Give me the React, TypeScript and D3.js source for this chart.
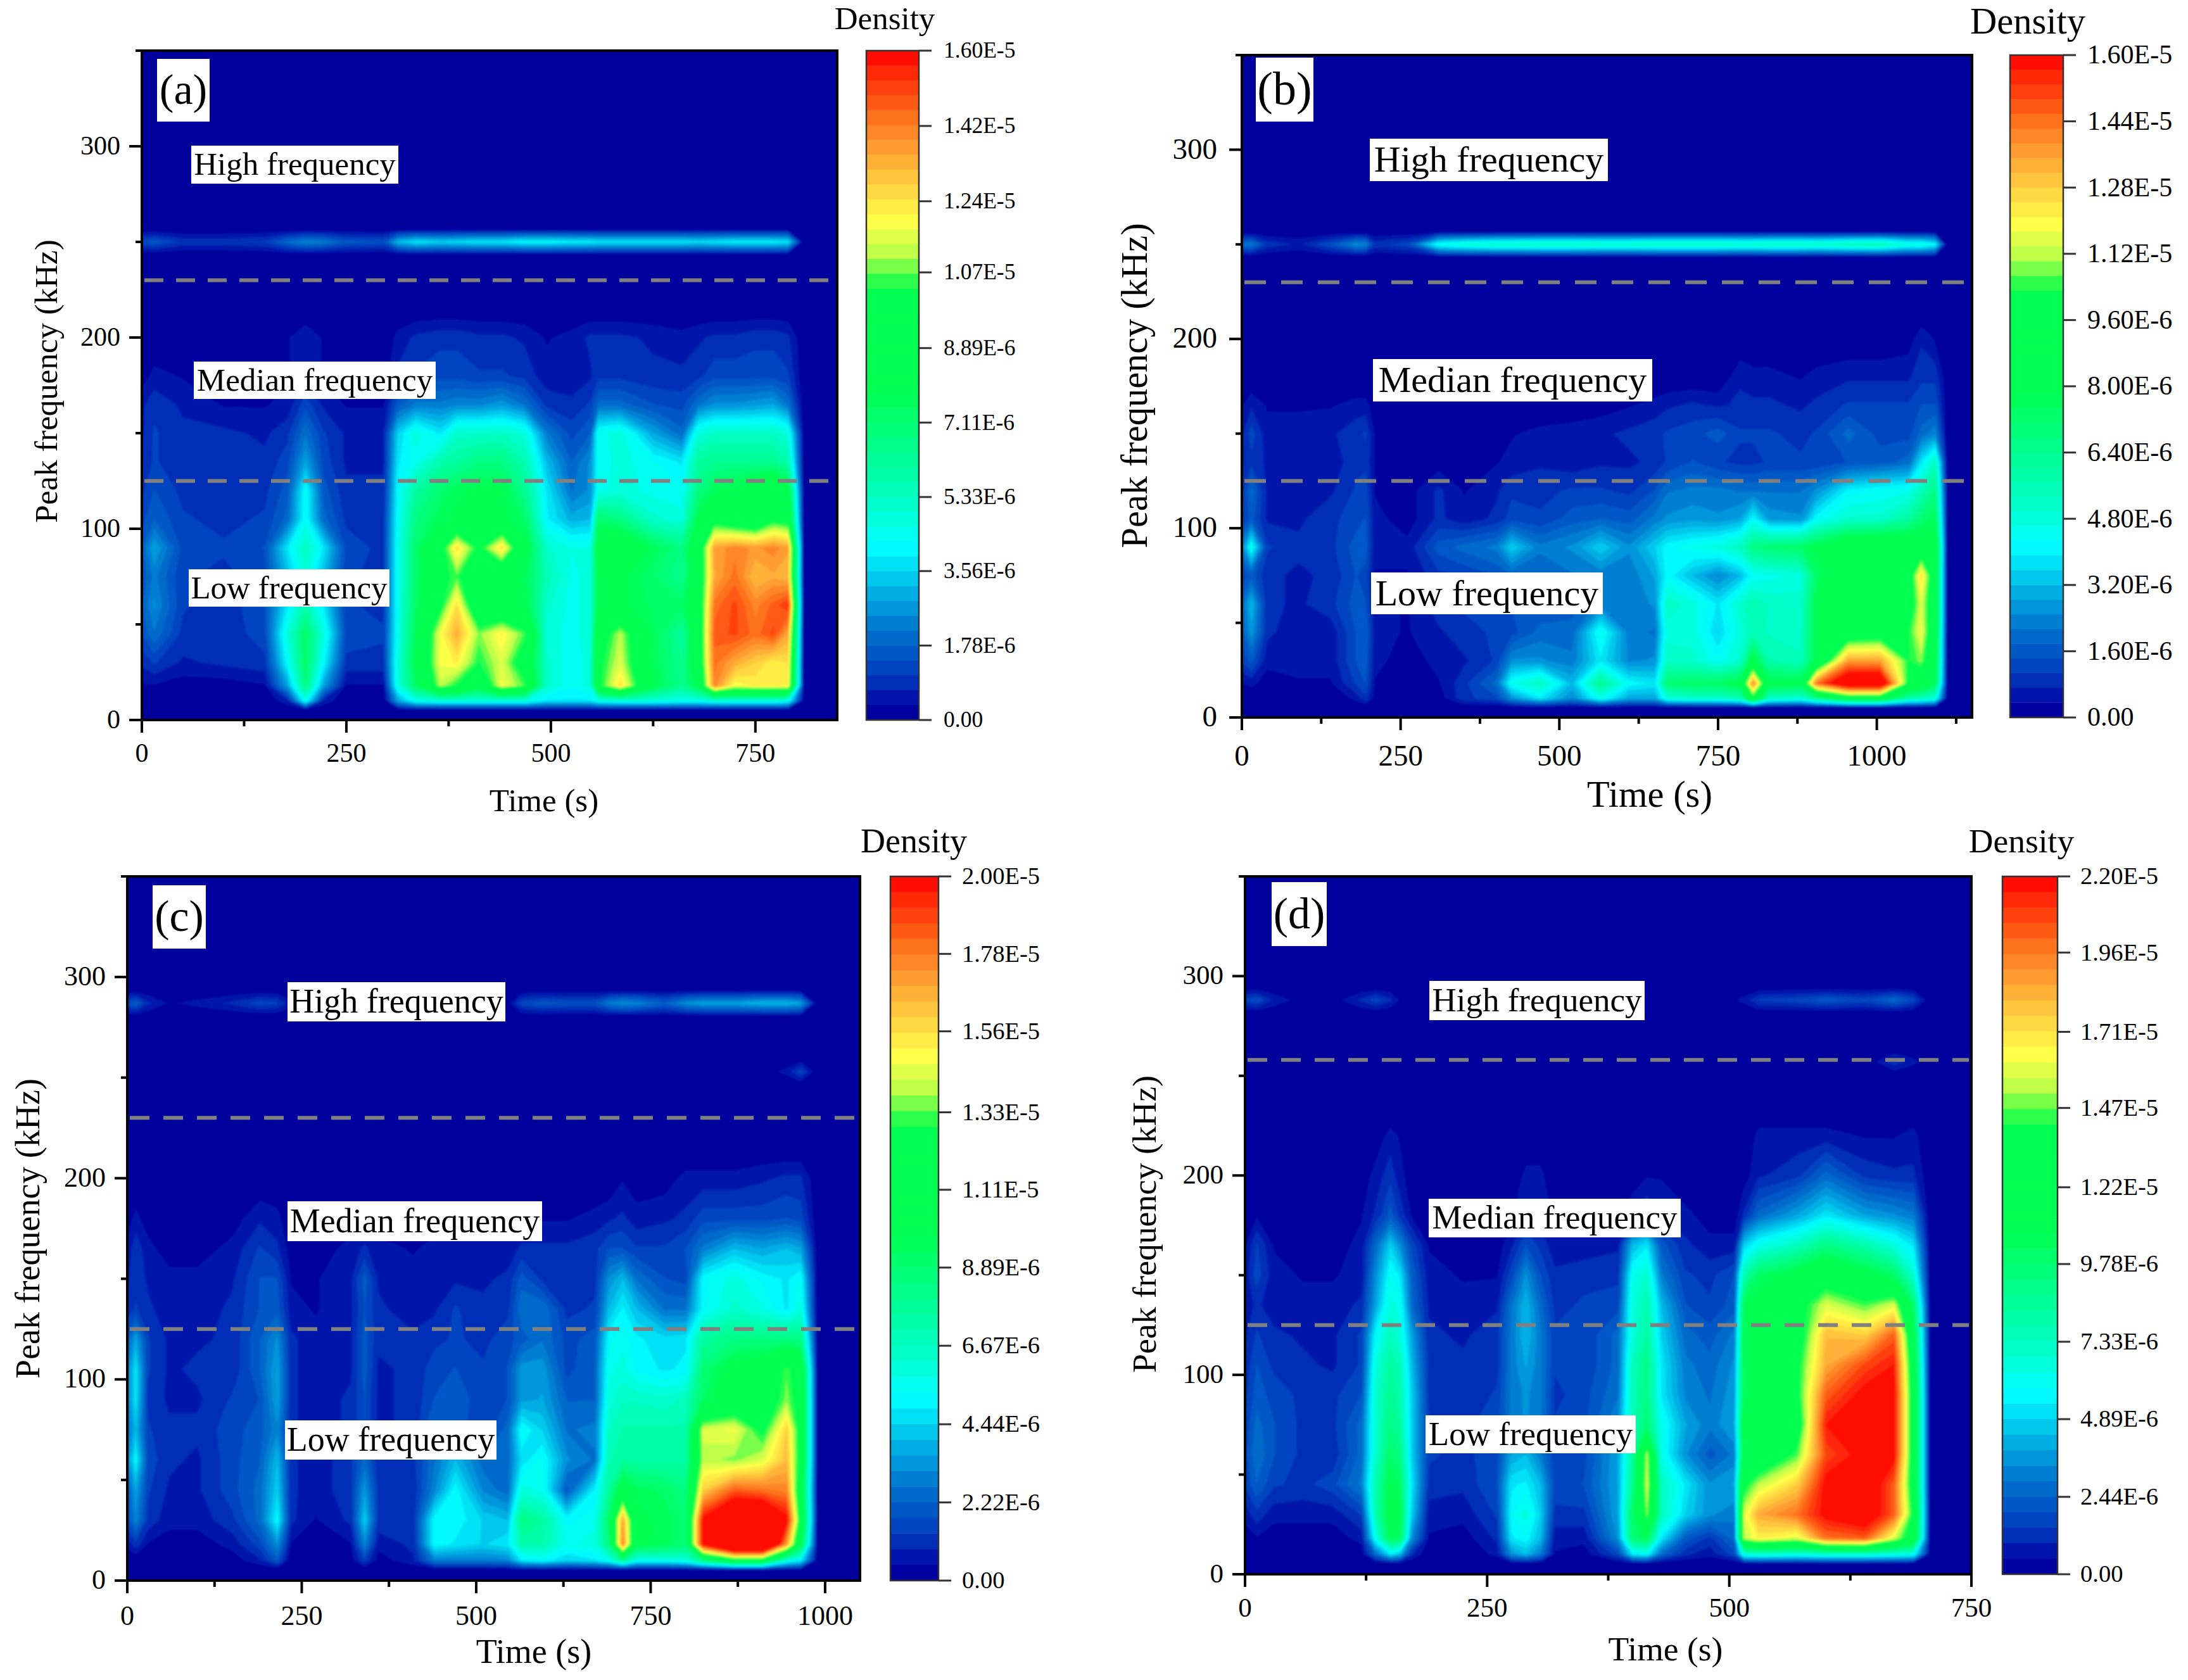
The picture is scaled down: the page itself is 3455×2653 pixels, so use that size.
import React from 'react';
import * as d3 from 'd3';

// rows run top to bottom, as they look in the figure. Values over 100 are clipped to red

const rowFreqs = [200, 180, 165, 150, 135, 120, 105, 90, 75, 60, 45, 30, 18, 10];

// panel (a)
const aTimes = [0, 15, 50, 100, 150, 178, 200, 222, 250, 295, 313, 335, 365, 385, 412, 440, 468, 495, 525, 548, 558, 585, 625, 660, 680, 700, 725, 750, 772, 790, 810, 850];
const aGrid = [
  [0, 0, 0, 0, 0, 2, 4, 2, 0, 0, 3, 5, 6, 6, 5, 5, 4, 2, 3, 5, 5, 5, 4, 3, 4, 5, 5, 6, 6, 5, 0, 0],
  [1, 3, 2, 1, 1, 2, 4, 2, 1, 1, 5, 7, 8, 8, 7, 7, 6, 3, 3, 4, 6, 6, 5, 5, 6, 8, 8, 8, 8, 7, 0, 0],
  [4, 6, 4, 2, 2, 3, 8, 4, 2, 2, 10, 14, 14, 15, 15, 17, 13, 6, 5, 7, 12, 12, 9, 8, 13, 16, 16, 17, 18, 13, 0, 0],
  [4, 7, 5, 5, 4, 6, 13, 7, 4, 4, 22, 30, 24, 32, 32, 33, 30, 14, 8, 11, 28, 30, 18, 12, 30, 33, 33, 33, 33, 30, 0, 0],
  [5, 7, 5, 6, 5, 8, 18, 8, 4, 4, 24, 28, 36, 38, 42, 42, 36, 20, 11, 16, 27, 30, 27, 24, 38, 40, 40, 40, 40, 36, 0, 0],
  [6, 9, 6, 6, 6, 10, 27, 10, 5, 5, 26, 38, 45, 48, 50, 50, 40, 24, 13, 16, 28, 30, 28, 27, 42, 48, 50, 56, 62, 52, 0, 0],
  [8, 11, 7, 6, 7, 12, 27, 12, 6, 6, 27, 42, 48, 50, 50, 50, 46, 25, 19, 20, 45, 42, 32, 30, 50, 60, 55, 52, 62, 60, 0, 0],
  [11, 18, 8, 7, 9, 24, 34, 24, 8, 6, 28, 45, 60, 78, 62, 78, 52, 32, 29, 29, 55, 58, 48, 42, 55, 85, 88, 86, 88, 85, 0, 0],
  [9, 14, 7, 6, 8, 20, 30, 20, 7, 6, 28, 45, 62, 66, 50, 52, 48, 35, 28, 30, 50, 50, 45, 40, 55, 84, 90, 82, 84, 82, 0, 0],
  [11, 16, 7, 5, 9, 24, 36, 24, 7, 6, 28, 46, 62, 78, 52, 50, 50, 32, 28, 30, 50, 50, 46, 46, 55, 90, 94, 88, 92, 96, 0, 0],
  [9, 13, 6, 5, 8, 30, 46, 30, 8, 7, 28, 48, 74, 84, 68, 76, 66, 30, 28, 30, 58, 70, 48, 38, 55, 92, 94, 90, 94, 84, 0, 0],
  [5, 7, 4, 5, 6, 26, 46, 26, 6, 6, 30, 50, 74, 76, 64, 72, 58, 32, 27, 30, 62, 72, 48, 40, 55, 90, 84, 80, 76, 78, 0, 0],
  [2, 2, 1, 1, 2, 18, 42, 18, 2, 2, 30, 46, 70, 64, 52, 74, 66, 32, 27, 30, 62, 78, 50, 40, 50, 88, 74, 76, 76, 76, 0, 0],
  [0, 0, 0, 0, 0, 4, 28, 4, 0, 0, 18, 28, 30, 30, 30, 30, 30, 24, 24, 24, 28, 30, 30, 28, 28, 30, 30, 30, 30, 28, 0, 0],
];
const aBand = [8, 10, 6, 6, 7, 12, 15, 14, 10, 9, 20, 24, 22, 23, 24, 24, 26, 26, 25, 25, 24, 24, 24, 24, 23, 24, 25, 25, 25, 24, 0, 0];
const aTicks = ['0.00', '1.78E-6', '3.56E-6', '5.33E-6', '7.11E-6', '8.89E-6', '1.07E-5', '1.24E-5', '1.42E-5', '1.60E-5'];

// panel (b)
const bTimes = [0, 15, 40, 90, 140, 180, 195, 210, 260, 310, 350, 400, 425, 470, 520, 565, 610, 650, 670, 710, 750, 785, 805, 830, 880, 905, 955, 1005, 1050, 1070, 1092, 1112, 1150];
const bGrid = [
  [0, 0, 0, 0, 0, 0, 0, 0, 0, 0, 0, 0, 0, 0, 0, 0, 0, 0, 0, 0, 0, 0, 0, 0, 0, 0, 0, 0, 1, 4, 2, 0, 0],
  [0, 0, 0, 0, 0, 0, 0, 0, 0, 0, 0, 0, 0, 0, 0, 0, 0, 0, 0, 0, 0, 4, 3, 3, 2, 3, 4, 4, 4, 6, 6, 0, 0],
  [2, 4, 2, 2, 2, 3, 3, 1, 0, 0, 0, 0, 0, 0, 1, 1, 2, 3, 4, 5, 4, 5, 5, 5, 4, 5, 7, 7, 7, 9, 9, 0, 0],
  [4, 8, 3, 3, 4, 6, 7, 2, 1, 1, 1, 1, 2, 3, 3, 4, 5, 6, 7, 8, 10, 7, 7, 7, 6, 7, 12, 8, 8, 12, 15, 0, 0],
  [4, 6, 4, 3, 3, 6, 6, 2, 1, 1, 1, 2, 3, 4, 3, 4, 4, 5, 7, 9, 7, 6, 6, 7, 7, 7, 9, 10, 12, 24, 34, 0, 0],
  [6, 12, 4, 3, 4, 7, 8, 2, 1, 5, 2, 4, 6, 6, 7, 7, 6, 9, 13, 14, 14, 13, 13, 13, 13, 16, 25, 27, 28, 34, 42, 0, 0],
  [6, 10, 4, 4, 6, 8, 9, 3, 1, 5, 3, 5, 8, 7, 10, 11, 10, 14, 16, 17, 16, 18, 26, 17, 16, 26, 32, 32, 38, 44, 48, 0, 0],
  [15, 28, 7, 5, 6, 10, 10, 3, 3, 10, 12, 14, 22, 14, 16, 22, 16, 22, 26, 28, 30, 34, 42, 44, 46, 50, 58, 60, 58, 56, 58, 0, 0],
  [7, 10, 5, 4, 5, 9, 8, 2, 2, 6, 7, 9, 11, 11, 13, 14, 14, 18, 26, 20, 15, 20, 27, 28, 30, 46, 56, 56, 58, 78, 56, 0, 0],
  [12, 20, 5, 4, 6, 10, 9, 3, 2, 6, 7, 9, 9, 9, 10, 14, 14, 16, 33, 30, 24, 32, 36, 33, 32, 50, 56, 56, 58, 72, 56, 0, 0],
  [10, 17, 5, 3, 3, 9, 11, 3, 2, 4, 6, 7, 8, 12, 12, 28, 14, 13, 30, 30, 22, 30, 35, 33, 32, 50, 56, 58, 64, 74, 54, 0, 0],
  [7, 10, 3, 3, 3, 9, 10, 3, 1, 3, 4, 7, 16, 16, 14, 24, 15, 16, 33, 32, 27, 32, 52, 36, 34, 50, 85, 85, 64, 68, 52, 0, 0],
  [2, 3, 1, 2, 2, 7, 9, 2, 0, 2, 6, 12, 28, 34, 20, 40, 26, 24, 44, 46, 46, 50, 88, 50, 50, 90, 110, 110, 62, 56, 48, 0, 0],
  [0, 0, 0, 0, 0, 3, 6, 1, 0, 1, 6, 8, 16, 24, 15, 28, 18, 18, 30, 32, 32, 35, 60, 33, 30, 40, 55, 55, 36, 34, 30, 0, 0],
];
const bBand = [12, 14, 6, 4, 9, 16, 15, 6, 8, 28, 31, 33, 33, 34, 34, 33, 33, 34, 34, 34, 34, 33, 33, 34, 34, 33, 35, 36, 30, 30, 26, 0, 0];
const bTicks = ['0.00', '1.60E-6', '3.20E-6', '4.80E-6', '6.40E-6', '8.00E-6', '9.60E-6', '1.12E-5', '1.28E-5', '1.44E-5', '1.60E-5'];

// panel (c)
const cTimes = [0, 12, 30, 60, 100, 150, 190, 215, 235, 270, 320, 340, 360, 410, 440, 470, 510, 545, 565, 595, 630, 670, 690, 710, 730, 770, 800, 825, 870, 910, 945, 965, 990, 1050];
const cGrid = [
  [0, 0, 0, 0, 0, 0, 0, 0, 0, 0, 0, 0, 0, 0, 0, 0, 0, 0, 0, 0, 0, 0, 0, 2, 1, 1, 3, 3, 3, 4, 5, 5, 0, 0],
  [1, 3, 1, 0, 0, 1, 4, 3, 0, 0, 1, 1, 1, 0, 1, 1, 1, 1, 2, 2, 2, 3, 4, 5, 3, 4, 5, 8, 8, 8, 9, 8, 0, 0],
  [3, 6, 3, 1, 1, 3, 7, 5, 1, 1, 3, 5, 3, 2, 3, 3, 3, 3, 5, 5, 5, 6, 9, 9, 7, 7, 9, 14, 20, 18, 20, 18, 0, 0],
  [4, 6, 4, 3, 3, 4, 9, 9, 2, 2, 4, 10, 4, 3, 4, 4, 4, 5, 10, 6, 5, 6, 16, 20, 13, 9, 8, 26, 30, 26, 24, 27, 0, 0],
  [5, 7, 5, 3, 3, 5, 9, 10, 3, 2, 4, 9, 5, 3, 4, 7, 5, 6, 13, 13, 6, 7, 20, 25, 20, 13, 13, 26, 32, 29, 24, 30, 0, 0],
  [10, 18, 7, 4, 4, 5, 11, 16, 5, 3, 4, 10, 5, 5, 6, 7, 6, 8, 10, 13, 8, 10, 26, 28, 25, 23, 24, 38, 42, 42, 42, 42, 0, 0],
  [14, 24, 7, 4, 5, 5, 11, 18, 5, 3, 4, 10, 4, 5, 8, 9, 7, 9, 17, 17, 8, 11, 28, 30, 26, 24, 25, 44, 52, 54, 66, 58, 0, 0],
  [14, 24, 6, 4, 4, 7, 9, 18, 5, 3, 5, 9, 4, 5, 9, 11, 7, 9, 17, 18, 11, 11, 30, 33, 33, 32, 34, 46, 54, 56, 68, 60, 0, 0],
  [12, 20, 7, 5, 5, 8, 10, 15, 5, 3, 5, 9, 4, 5, 12, 10, 7, 12, 27, 22, 13, 14, 33, 36, 36, 36, 36, 72, 74, 62, 80, 60, 0, 0],
  [15, 26, 8, 5, 4, 8, 11, 20, 5, 3, 6, 12, 5, 6, 13, 20, 12, 12, 23, 27, 16, 13, 35, 38, 37, 37, 37, 70, 68, 72, 82, 60, 0, 0],
  [10, 18, 7, 4, 4, 8, 12, 22, 5, 3, 6, 17, 6, 5, 15, 26, 15, 12, 30, 28, 10, 25, 38, 54, 48, 46, 42, 80, 92, 90, 88, 55, 0, 0],
  [8, 15, 6, 3, 3, 6, 12, 26, 5, 2, 5, 22, 6, 6, 26, 26, 22, 20, 42, 38, 26, 28, 46, 85, 50, 48, 44, 100, 115, 115, 100, 60, 0, 0],
  [3, 6, 2, 1, 1, 3, 8, 16, 2, 0, 2, 15, 3, 5, 26, 24, 22, 24, 36, 36, 28, 30, 42, 88, 50, 48, 44, 100, 130, 130, 85, 50, 0, 0],
  [0, 0, 0, 0, 0, 1, 4, 10, 0, 0, 1, 7, 1, 4, 14, 14, 14, 15, 24, 26, 22, 24, 28, 40, 28, 28, 30, 42, 58, 58, 30, 25, 0, 0],
];
const cBand = [8, 11, 5, 2, 3, 5, 8, 7, 3, 1, 1, 1, 1, 1, 1, 1, 1, 1, 8, 10, 9, 9, 14, 16, 15, 11, 16, 18, 18, 20, 20, 18, 0, 0];
const cFaint = [0, 0, 0, 0, 0, 0, 0, 0, 0, 0, 0, 0, 0, 0, 0, 0, 0, 0, 0, 0, 0, 0, 0, 0, 0, 0, 0, 0, 0, 1, 3, 8, 0, 0];
const cTicks = ['0.00', '2.22E-6', '4.44E-6', '6.67E-6', '8.89E-6', '1.11E-5', '1.33E-5', '1.56E-5', '1.78E-5', '2.00E-5'];

// panel (d)
const dRowFreqs = [220, ...rowFreqs];
const dTimes = [0, 12, 30, 60, 90, 120, 135, 150, 160, 172, 190, 225, 260, 275, 290, 305, 320, 350, 385, 400, 415, 430, 455, 480, 505, 515, 530, 570, 600, 640, 670, 690, 708, 750];
const dGrid = [
  [0, 0, 0, 0, 0, 0, 1, 3, 2, 0, 0, 0, 0, 0, 0, 0, 0, 0, 0, 0, 0, 0, 0, 0, 0, 0, 3, 3, 3, 2, 2, 3, 0, 0],
  [0, 0, 0, 0, 0, 1, 3, 6, 3, 1, 0, 0, 0, 0, 3, 3, 0, 0, 0, 0, 2, 2, 0, 0, 0, 1, 4, 6, 12, 6, 5, 5, 0, 0],
  [0, 2, 1, 0, 0, 2, 5, 10, 6, 2, 0, 0, 0, 2, 4, 3, 2, 1, 1, 5, 7, 4, 3, 1, 1, 5, 12, 18, 24, 18, 16, 14, 0, 0],
  [2, 7, 2, 1, 1, 3, 12, 22, 16, 8, 2, 1, 1, 4, 9, 6, 3, 3, 4, 20, 24, 10, 5, 3, 3, 22, 28, 34, 42, 36, 30, 24, 0, 0],
  [3, 8, 3, 2, 2, 3, 16, 27, 24, 11, 3, 2, 2, 8, 16, 9, 5, 6, 6, 28, 32, 14, 7, 6, 9, 36, 46, 52, 58, 52, 46, 32, 0, 0],
  [3, 5, 3, 3, 3, 5, 18, 30, 28, 12, 4, 3, 4, 13, 20, 12, 6, 7, 8, 30, 36, 20, 9, 7, 10, 48, 52, 60, 72, 66, 72, 46, 0, 0],
  [4, 7, 5, 4, 4, 7, 26, 34, 30, 18, 5, 4, 6, 14, 20, 14, 7, 7, 12, 30, 38, 22, 12, 10, 14, 48, 52, 58, 82, 80, 92, 52, 0, 0],
  [5, 9, 6, 5, 4, 7, 30, 38, 35, 20, 6, 5, 6, 14, 18, 14, 7, 7, 12, 34, 42, 24, 14, 12, 16, 48, 52, 62, 84, 94, 98, 56, 0, 0],
  [6, 10, 8, 6, 6, 9, 32, 40, 36, 22, 6, 5, 7, 14, 16, 14, 6, 8, 13, 35, 42, 24, 15, 13, 17, 48, 50, 62, 92, 100, 100, 58, 0, 0],
  [7, 12, 9, 6, 6, 12, 32, 42, 38, 22, 7, 6, 8, 14, 16, 14, 7, 8, 16, 34, 44, 28, 18, 14, 18, 52, 62, 58, 98, 100, 100, 58, 0, 0],
  [8, 13, 9, 6, 5, 12, 32, 46, 42, 22, 7, 6, 8, 18, 20, 14, 7, 8, 18, 38, 70, 28, 16, 10, 14, 50, 54, 66, 94, 100, 100, 58, 0, 0],
  [7, 11, 7, 6, 8, 14, 36, 50, 46, 24, 6, 5, 9, 24, 25, 20, 8, 9, 18, 40, 72, 34, 24, 16, 18, 62, 70, 80, 100, 105, 92, 58, 0, 0],
  [3, 6, 3, 3, 3, 7, 36, 52, 50, 22, 3, 3, 7, 26, 30, 22, 6, 6, 18, 46, 68, 34, 22, 16, 14, 72, 84, 90, 100, 105, 92, 62, 0, 0],
  [1, 2, 1, 1, 1, 3, 28, 48, 46, 16, 2, 1, 5, 24, 26, 20, 3, 3, 16, 44, 48, 24, 10, 6, 12, 70, 76, 72, 90, 92, 72, 58, 0, 0],
  [0, 0, 0, 0, 0, 1, 12, 24, 20, 5, 0, 0, 3, 16, 20, 14, 2, 1, 8, 24, 26, 12, 5, 3, 8, 30, 32, 30, 32, 32, 30, 28, 0, 0],
];
const dBand = [7, 9, 4, 1, 1, 5, 8, 5, 2, 1, 1, 1, 1, 1, 1, 1, 1, 5, 2, 1, 1, 1, 1, 1, 2, 3, 7, 8, 10, 8, 12, 8, 0, 0];
const dFaint = [0, 0, 0, 0, 0, 0, 0, 0, 0, 0, 0, 0, 0, 0, 0, 0, 0, 0, 0, 0, 0, 0, 0, 0, 0, 0, 0, 0, 0, 0, 6, 3, 0, 0];
const dTicks = ['0.00', '2.44E-6', '4.89E-6', '7.33E-6', '9.78E-6', '1.22E-5', '1.47E-5', '1.71E-5', '1.96E-5', '2.20E-5'];

const freqMajor = [0, 100, 200, 300];
const freqMinor = [50, 150, 250, 350];
const bandCount = 45;

// origin style rainbow, sampled by eye from the colour bar
const paletteStops = [0, 0.02, 0.05, 0.09, 0.13, 0.18, 0.26, 0.33, 0.4, 0.49, 0.644, 0.67, 0.7, 0.745, 0.8, 0.86, 0.91, 0.96, 1];
const paletteColors = ['#00009c', '#0004a4', '#0028b4', '#0050c4', '#0070cc', '#00a4e0', '#00ffff', '#00ffc4', '#00ff90', '#00ff50', '#00ff50', '#60ff48', '#c0ff48', '#ffff48', '#ffd040', '#ff9830', '#ff6818', '#ff3008', '#ff0000'];
const palette = d3.scaleLinear<string>().domain(paletteStops).range(paletteColors);

const panels = [
  {
    tag: '(a)', times: aTimes, grid: aGrid, rows: rowFreqs, bands: [[250, aBand]], top: 1.6e-5, ticks: aTicks,
    xMax: 850, xMajor: [0, 250, 500, 750], xMinor: [125, 375, 625],
    dashed: [230, 125], dash: '30 20',
    plot: { l: 224, r: 1322, t: 80, b: 1137 }, bar: { l: 1368, r: 1451 },
    font: { tick: 42, bar: 35.5, title: 51, label: 51, tag: 68 },
    yTitle: [90, 602], xTitle: [859, 1281], density: [1397, 46], xTickDy: 66, yTickDx: 34, barDx: 39,
    boxes: [
      ['(a)', 248, 331, 93, 192], ['High frequency', 302, 629, 230, 290],
      ['Median frequency', 306, 688, 571, 630], ['Low frequency', 298, 615, 899, 958],
    ],
  },
  {
    tag: '(b)', times: bTimes, grid: bGrid, rows: rowFreqs, bands: [[250, bBand]], top: 1.6e-5, ticks: bTicks,
    xMax: 1150, xMajor: [0, 250, 500, 750, 1000], xMinor: [125, 375, 625, 875, 1125],
    dashed: [230, 125], dash: '34 24',
    plot: { l: 1961, r: 3114, t: 87, b: 1133 }, bar: { l: 3174, r: 3258 },
    font: { tick: 47, bar: 42, title: 58.5, label: 58, tag: 74 },
    yTitle: [1811, 609], xTitle: [2605, 1274], density: [3202, 53], xTickDy: 76, yTickDx: 39, barDx: 38,
    boxes: [
      ['(b)', 1983, 2074, 91, 192], ['High frequency', 2163, 2539, 219, 286],
      ['Median frequency', 2168, 2609, 567, 634], ['Low frequency', 2165, 2531, 904, 970],
    ],
  },
  {
    tag: '(c)', times: cTimes, grid: cGrid, rows: rowFreqs, bands: [[253, cFaint], [287, cBand]], top: 2e-5, ticks: cTicks,
    xMax: 1050, xMajor: [0, 250, 500, 750, 1000], xMinor: [125, 375, 625, 875],
    dashed: [230, 125], dash: '31 22',
    plot: { l: 201, r: 1358, t: 1384, b: 2496 }, bar: { l: 1406, r: 1482 },
    font: { tick: 44, bar: 38.5, title: 54, label: 54, tag: 70 },
    yTitle: [62, 1940], xTitle: [843, 2626], density: [1443, 1346], xTickDy: 70, yTickDx: 34, barDx: 37,
    boxes: [
      ['(c)', 241, 325, 1398, 1498], ['High frequency', 454, 798, 1551, 1613],
      ['Median frequency', 454, 856, 1897, 1960], ['Low frequency', 450, 784, 2243, 2305],
    ],
  },
  {
    tag: '(d)', times: dTimes, grid: dGrid, rows: dRowFreqs, bands: [[257, dFaint], [288, dBand]], top: 2.2e-5, ticks: dTicks,
    xMax: 750, xMajor: [0, 250, 500, 750], xMinor: [125, 375, 625],
    dashed: [258, 125], dash: '31 22',
    plot: { l: 1966, r: 3113, t: 1384, b: 2486 }, bar: { l: 3162, r: 3249 },
    font: { tick: 43, bar: 38.5, title: 53.5, label: 53, tag: 70 },
    yTitle: [1825, 1933], xTitle: [2630, 2622], density: [3192, 1346], xTickDy: 67, yTickDx: 34, barDx: 36,
    boxes: [
      ['(d)', 2008, 2095, 1393, 1494], ['High frequency', 2257, 2597, 1549, 1611],
      ['Median frequency', 2256, 2654, 1893, 1954], ['Low frequency', 2251, 2583, 2235, 2295],
    ],
  },
];

const SERIF = '"Liberation Serif", "Times New Roman", serif';

function Heat({ p, x, y }: any) {
  // bottom to top rows, with zero rows where the density dies off
  const zero = p.times.map(() => 0);
  const rowsUp = [...p.rows].reverse();
  const freqs: number[] = [0, 5, ...rowsUp, rowsUp[rowsUp.length - 1] + 15];
  const lines: number[][] = [zero, zero, ...[...p.grid].reverse(), zero];
  p.bands.forEach(([f, vals]: any) => {
    freqs.push(f - 7, f, f + 7);
    lines.push(zero, vals, zero);
  });
  freqs.push(350);
  lines.push(zero);

  const n = p.times.length;
  const m = freqs.length;
  const values = lines.flat();
  const gx = d3.scaleLinear().domain(p.times.map((_: number, i: number) => i + 0.5)).range(p.times).clamp(true);
  const gy = d3.scaleLinear().domain(freqs.map((_, i) => i + 0.5)).range(freqs).clamp(true);
  const path = d3.geoPath(d3.geoTransform({
    point(a: number, b: number) {
      this.stream.point(x(gx(a)), y(gy(b)));
    },
  }));
  const levels = d3.range(1, bandCount).map((i) => (i / bandCount) * 100);
  const contours = d3.contours().size([n, m]).smooth(true).thresholds(levels)(values);
  return (
    <g>
      <rect x={p.plot.l} y={p.plot.t} width={p.plot.r - p.plot.l} height={p.plot.b - p.plot.t} fill={palette(0)} />
      <g filter="url(#soften)">
        {contours.map((c, i) => (
          <path key={i} d={path(c as any) || ''} fill={palette((i + 1.5) / bandCount)} />
        ))}
      </g>
    </g>
  );
}

function Panel({ p }: any) {
  const { plot, bar, font } = p;
  const x = d3.scaleLinear().domain([0, p.xMax]).range([plot.l, plot.r]);
  const y = d3.scaleLinear().domain([0, 350]).range([plot.b, plot.t]);
  const c = d3.scaleLinear().domain([0, p.top]).range([plot.b, plot.t]);
  const barBands = d3.range(bandCount);
  const band = d3.scaleLinear().domain([0, bandCount]).range([plot.b, plot.t]);

  return (
    <g fontFamily={SERIF} fill="#000">
      <Heat p={p} x={x} y={y} />

      {p.dashed.map((f: number) => (
        <line key={f} x1={plot.l + 4} x2={plot.r - 4} y1={y(f)} y2={y(f)} stroke="#808080" strokeWidth={6} strokeDasharray={p.dash} />
      ))}

      {p.boxes.map(([text, x0, x1, y0, y1]: any) => {
        const fs = text === p.tag ? font.tag : font.label;
        return (
          <g key={text}>
            <rect x={x0} y={y0} width={x1 - x0} height={y1 - y0} fill="#fff" />
            <text x={(x0 + x1) / 2} y={(y0 + y1) / 2 + fs * 0.32} fontSize={fs} textAnchor="middle">{text}</text>
          </g>
        );
      })}

      <rect x={plot.l} y={plot.t} width={plot.r - plot.l} height={plot.b - plot.t} fill="none" stroke="#000" strokeWidth={4} />

      {p.xMajor.map((t: number) => (
        <g key={t}>
          <line x1={x(t)} x2={x(t)} y1={plot.b} y2={plot.b + 20} stroke="#000" strokeWidth={4} />
          <text x={x(t)} y={plot.b + p.xTickDy} fontSize={font.tick} textAnchor="middle">{t}</text>
        </g>
      ))}
      {p.xMinor.map((t: number) => (
        <line key={t} x1={x(t)} x2={x(t)} y1={plot.b} y2={plot.b + 10} stroke="#000" strokeWidth={4} />
      ))}
      {freqMajor.map((f) => (
        <g key={f}>
          <line x1={plot.l - 20} x2={plot.l} y1={y(f)} y2={y(f)} stroke="#000" strokeWidth={4} />
          <text x={plot.l - p.yTickDx} y={y(f) + font.tick * 0.3} fontSize={font.tick} textAnchor="end">{f}</text>
        </g>
      ))}
      {freqMinor.map((f) => (
        <line key={f} x1={plot.l - 10} x2={plot.l} y1={y(f)} y2={y(f)} stroke="#000" strokeWidth={4} />
      ))}

      <text x={p.xTitle[0]} y={p.xTitle[1]} fontSize={font.title} textAnchor="middle">Time (s)</text>
      <text transform={`translate(${p.yTitle[0]},${p.yTitle[1]}) rotate(-90)`} fontSize={font.title} textAnchor="middle">Peak frequency (kHz)</text>

      {barBands.map((i) => (
        <rect key={i} x={bar.l} width={bar.r - bar.l} y={band(i + 1) - 0.5} height={band(i) - band(i + 1) + 0.5} fill={palette((i + 0.5) / bandCount)} />
      ))}
      <rect x={bar.l} y={plot.t} width={bar.r - bar.l} height={plot.b - plot.t} fill="none" stroke="#333" strokeWidth={2.5} />
      {p.ticks.map((t: string) => (
        <g key={t}>
          <line x1={bar.r} x2={bar.r + 20} y1={c(+t)} y2={c(+t)} stroke="#333" strokeWidth={3} />
          <text x={bar.r + p.barDx} y={c(+t) + font.bar * 0.32} fontSize={font.bar}>{t}</text>
        </g>
      ))}
      <text x={p.density[0]} y={p.density[1]} fontSize={font.title} textAnchor="middle">Density</text>
    </g>
  );
}

export default function App() {
  return (
    <svg width={3455} height={2653} style={{ position: 'absolute', left: 0, top: 0, background: '#fff' }}>
      <defs>
        <filter id="soften" x="-2%" y="-2%" width="104%" height="104%">
          <feGaussianBlur stdDeviation="1.6" />
        </filter>
      </defs>
      {panels.map((p) => (
        <Panel key={p.tag} p={p} />
      ))}
    </svg>
  );
}
